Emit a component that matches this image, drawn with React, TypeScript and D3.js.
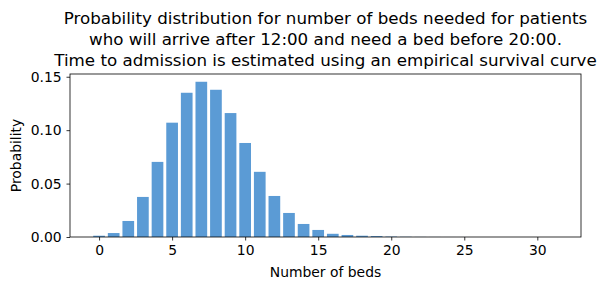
import React, { useRef, useEffect } from "react";
import { select, scaleLinear, axisBottom, axisLeft } from "d3";

// number of beds (x) and probability (y)
const beds = Array.from({ length: 32 }, (_, i) => i);
const probs = [
  0.0012, 0.0037, 0.015, 0.0375, 0.0703, 0.107, 0.135, 0.1453, 0.1378, 0.116,
  0.088, 0.061, 0.0384, 0.0225, 0.0122, 0.0066, 0.003, 0.0019, 0.0012, 0.0009,
  0.0004, 0.0002, 0.0001, 0.00005, 0.00002, 0.00001, 0, 0, 0, 0, 0, 0,
];
const xTicks = [0, 5, 10, 15, 20, 25, 30];
const yTicks = [0, 0.05, 0.1, 0.15];
const titleLines = [
  "Probability distribution for number of beds needed for patients",
  "who will arrive after 12:00 and need a bed before 20:00.",
  "Time to admission is estimated using an empirical survival curve",
];

const W = 605;
const H = 290;
const m = { left: 70, right: 24, top: 74, bottom: 53 };
const font = "DejaVu Sans, sans-serif";

const App = () => {
  const svgRef = useRef<SVGSVGElement>(null);

  useEffect(() => {
    const svg = select(svgRef.current);
    svg.selectAll("*").remove();

    const x = scaleLinear().domain([-1.99, 32.99]).range([m.left, W - m.right]);
    const ymax = Math.max(...probs) * 1.05;
    const y = scaleLinear().domain([0, ymax]).range([H - m.bottom, m.top]);

    // bars, width 0.8 like matplotlib's default
    svg
      .append("g")
      .selectAll("rect")
      .data(beds)
      .join("rect")
      .attr("x", (d) => x(d - 0.4))
      .attr("width", (d) => x(d + 0.4) - x(d - 0.4))
      .attr("y", (d, i) => y(probs[i]))
      .attr("height", (d, i) => y(0) - y(probs[i]))
      .attr("fill", "#5b9bd5");

    const xAxis = svg
      .append("g")
      .attr("transform", `translate(0,${H - m.bottom})`)
      .call(axisBottom(x).tickValues(xTicks).tickSize(3.5).tickPadding(4.9).tickFormat((d) => String(d)));
    const yAxis = svg
      .append("g")
      .attr("transform", `translate(${m.left},0)`)
      .call(axisLeft(y).tickValues(yTicks).tickSize(3.5).tickPadding(4.9).tickFormat((d) => (+d).toFixed(2)));

    [xAxis, yAxis].forEach((g) => {
      g.select(".domain").remove();
      g.selectAll("line").attr("stroke", "#000").attr("stroke-width", 0.8);
      g.selectAll("text").attr("font-family", font).attr("font-size", 13.9).attr("fill", "#000");
    });

    // frame
    svg
      .append("rect")
      .attr("x", m.left)
      .attr("y", m.top)
      .attr("width", W - m.left - m.right)
      .attr("height", H - m.top - m.bottom)
      .attr("fill", "none")
      .attr("stroke", "#000")
      .attr("stroke-width", 0.8);

    svg
      .append("text")
      .attr("x", (m.left + W - m.right) / 2)
      .attr("y", 277)
      .attr("text-anchor", "middle")
      .attr("font-family", font)
      .attr("font-size", 13.9)
      .text("Number of beds");

    svg
      .append("text")
      .attr("transform", `translate(21,${(m.top + H - m.bottom) / 2}) rotate(-90)`)
      .attr("text-anchor", "middle")
      .attr("font-family", font)
      .attr("font-size", 13.9)
      .text("Probability");

    svg
      .append("g")
      .selectAll("text")
      .data(titleLines)
      .join("text")
      .attr("x", (m.left + W - m.right) / 2)
      .attr("y", (d, i) => 24 + i * 21)
      .attr("text-anchor", "middle")
      .attr("font-family", font)
      .attr("font-size", 16.7)
      .text((d) => d);
  }, []);

  return (
    <svg
      ref={svgRef}
      width={W}
      height={H}
      style={{ position: "absolute", left: 0, top: 0, background: "#fff" }}
    />
  );
};

export default App;
